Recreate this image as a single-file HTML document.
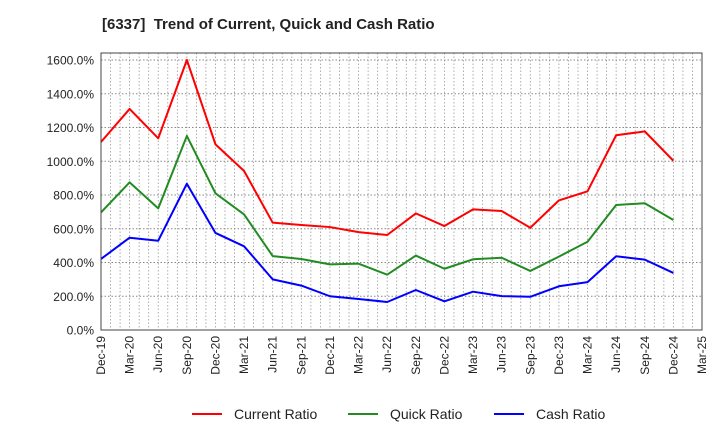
<!DOCTYPE html>
<html><head><meta charset="utf-8"><style>
body{margin:0;background:#fff;font-family:"Liberation Sans",sans-serif}
svg text{font-family:"Liberation Sans",sans-serif}
</style></head><body>
<svg id="chart" width="720" height="440" viewBox="0 0 720 440">
<text x="102" y="29" font-size="15" font-weight="bold" fill="#222">[6337]&#160; Trend of Current, Quick and Cash Ratio</text>
<g id="grid"></g><g id="yt"></g><g id="xt"></g><g id="lines"></g>
<rect x="101" y="53" width="601" height="277" fill="none" stroke="#444" stroke-width="1"/>
<g>
<line x1="192" y1="414" x2="222" y2="414" stroke="#f00" stroke-width="2"/>
<text x="234" y="419" font-size="14" fill="#222">Current Ratio</text>
<line x1="348" y1="414" x2="378" y2="414" stroke="#228b22" stroke-width="2"/>
<text x="390" y="419" font-size="14" fill="#222">Quick Ratio</text>
<line x1="494" y1="414" x2="524" y2="414" stroke="#00f" stroke-width="2"/>
<text x="536" y="419" font-size="14" fill="#222">Cash Ratio</text>
</g>
</svg>
<script>
const xLabels=["Dec-19","Mar-20","Jun-20","Sep-20","Dec-20","Mar-21","Jun-21","Sep-21","Dec-21","Mar-22","Jun-22","Sep-22","Dec-22","Mar-23","Jun-23","Sep-23","Dec-23","Mar-24","Jun-24","Sep-24","Dec-24","Mar-25"];
const yTicks=[0,200,400,600,800,1000,1200,1400,1600];
const currentRatio=[1114,1310,1136,1600,1100,942,636,622,610,580,563,691,616,715,705,606,768,822,1154,1177,1003];
const quickRatio=[697,875,721,1150,810,685,438,421,389,393,328,441,363,419,428,350,435,523,741,751,652];
const cashRatio=[421,547,529,867,575,496,300,263,200,184,166,237,170,227,201,197,259,284,437,417,338];
const NS="http://www.w3.org/2000/svg";
const X0=101,X1=702,Y0=330,PXV=270/1600;
const xs=i=>X0+i*(X1-X0)/21;
const ys=v=>Y0-v*PXV;
function mk(t,a,p){const e=document.createElementNS(NS,t);for(const k in a)e.setAttribute(k,a[k]);p.appendChild(e);return e;}
const grid=document.getElementById('grid');
for(let m=0;m<=63;m++){const x=X0+m*(X1-X0)/63;
const l=mk('line',{x1:x,x2:x,y1:53,y2:330,stroke:'#999','stroke-width':0.8,'stroke-dasharray':'1.5,2'},grid);

}
const yt=document.getElementById('yt');
yTicks.forEach(v=>{const y=ys(v);
const l=mk('line',{x1:X0,x2:X1,y1:y,y2:y,stroke:'#888','stroke-width':0.9,'stroke-dasharray':'1.5,2'},grid);


const t=mk('text',{x:94,y:y+4.5,'text-anchor':'end','font-size':12,fill:'#222'},yt);
t.textContent=v.toFixed(1)+'%';

});
const xt=document.getElementById('xt');
xLabels.forEach((s,i)=>{const x=xs(i);
const t=mk('text',{x:0,y:0,'text-anchor':'end','font-size':12,fill:'#222',transform:`translate(${x+4},336) rotate(-90)`},xt);
t.textContent=s;

});
const lines=document.getElementById('lines');
[[currentRatio,'#f00','current-ratio-line'],[quickRatio,'#228b22','quick-ratio-line'],[cashRatio,'#00f','cash-ratio-line']].forEach(([d,c,n])=>{
const p=mk('polyline',{points:d.map((v,i)=>xs(i)+','+ys(v)).join(' '),fill:'none',stroke:c,'stroke-width':2,'stroke-linejoin':'round'},lines);

});
</script>
</body></html>
